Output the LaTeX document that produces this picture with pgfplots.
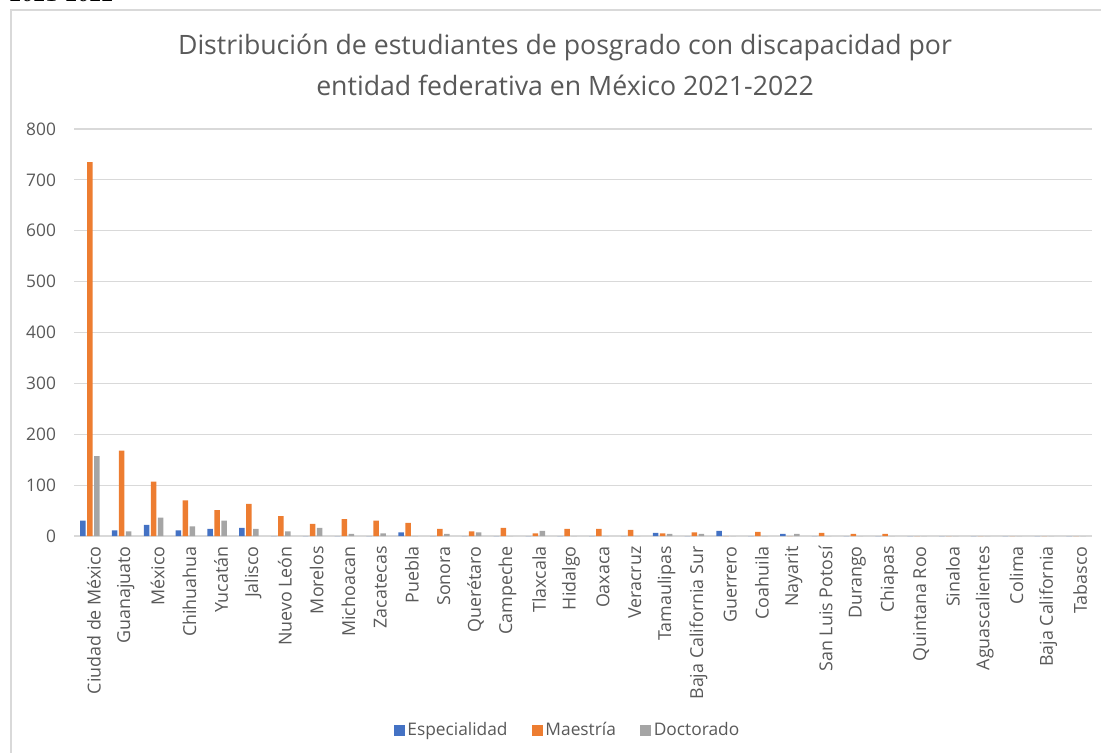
\documentclass[border=0pt]{standalone}
\usepackage{pgfplots}
\pgfplotsset{compat=1.18}
\usepackage{pgfplotstable}
\usepackage{fontspec}
\setmainfont{Open Sans}
\newfontfamily\serifit{Liberation Serif}
\definecolor{cblue}{HTML}{4472C4}
\definecolor{corange}{HTML}{ED7D31}
\definecolor{cgray}{HTML}{A5A5A5}
\definecolor{ctext}{HTML}{595959}
\definecolor{cgrid}{HTML}{D9D9D9}
\pgfplotstableread{
x esp mae doc
0 30 735 157
1 11 168 9
2 22 107 36
3 11 70 19
4 14 51 30
5 16 63 14
6 0 39 9
7 0 24 16
8 0 33 4
9 0 30 5
10 7 26 0
11 0 14 4
12 0 9 7
13 0 16 0
14 0 5 10
15 0 14 0
16 0 14 0
17 0 12 0
18 6 5 4
19 0 7 4
20 10 0 0
21 0 8 0
22 4 0 4
23 0 6 0
24 0 4 0
25 0 4 0
26 0 0 0
27 0 0 0
28 0 0 0
29 0 0 0
30 0 0 0
31 0 0 0
}\datatable
\begin{document}
\begin{tikzpicture}
\useasboundingbox (0pt,0pt) rectangle (825.75pt,-564.75pt);
\node[anchor=base west,font=\serifit\itshape\fontsize{18}{20}\selectfont,inner sep=0pt] at (7.5pt,-1.5pt) {2021-2022};
\draw[cgrid,line width=1pt] (8.25pt,-600pt) -- (8.25pt,-7.5pt) -- (830pt,-7.5pt);
\node[font=\fontsize{20}{22}\selectfont,text=ctext] at (423.75pt,-35.25pt) {Distribución de estudiantes de posgrado con discapacidad por};
\node[font=\fontsize{20}{22}\selectfont,text=ctext] at (423.75pt,-63.75pt) {entidad federativa en México 2021-2022};
\begin{axis}[
  at={(55.5pt,-402pt)}, anchor=south west,
  scale only axis, width=763.5pt, height=305.25pt,
  xmin=-0.5, xmax=31.5, ymin=0, ymax=800,
  ytick={0,100,...,800},
  ybar=1.15pt, bar width=4.1pt,
  axis lines*=left, axis line style={draw=none},
  tick style={draw=none},
  ymajorgrids, grid style={cgrid,line width=0.9pt},
  xtick={0,...,31},
  xticklabels={Ciudad de México,Guanajuato,México,Chihuahua,Yucatán,Jalisco,Nuevo León,Morelos,Michoacan,Zacatecas,Puebla,Sonora,Querétaro,Campeche,Tlaxcala,Hidalgo,Oaxaca,Veracruz,Tamaulipas,Baja California Sur,Guerrero,Coahuila,Nayarit,San Luis Potosí,Durango,Chiapas,Quintana Roo,Sinaloa,Aguascalientes,Colima,Baja California,Tabasco},
  x tick label style={rotate=90,anchor=east,font=\fontsize{13.4}{15}\selectfont,text=ctext,yshift=-3pt},
  y tick label style={font=\fontsize{13}{15}\selectfont,text=ctext},
  /pgf/number format/assume math mode=true,
  yticklabel style={xshift=-10pt},
  legend columns=3,
  legend style={at={(0.485,-0.477)},anchor=center,draw=none,font=\fontsize{13}{15}\selectfont,text=ctext,
    /tikz/every even column/.append style={column sep=16pt}},
  legend image code/.code={\fill[#1] (0pt,-4.2pt) rectangle (8.4pt,4.2pt);},
]
\addplot[fill=cblue,draw=none] table[x=x,y=esp] {\datatable};
\addplot[fill=corange,draw=none] table[x=x,y=mae] {\datatable};
\addplot[fill=cgray,draw=none] table[x=x,y=doc] {\datatable};
\legend{Especialidad,Maestría,Doctorado}
\end{axis}
\end{tikzpicture}
\end{document}
